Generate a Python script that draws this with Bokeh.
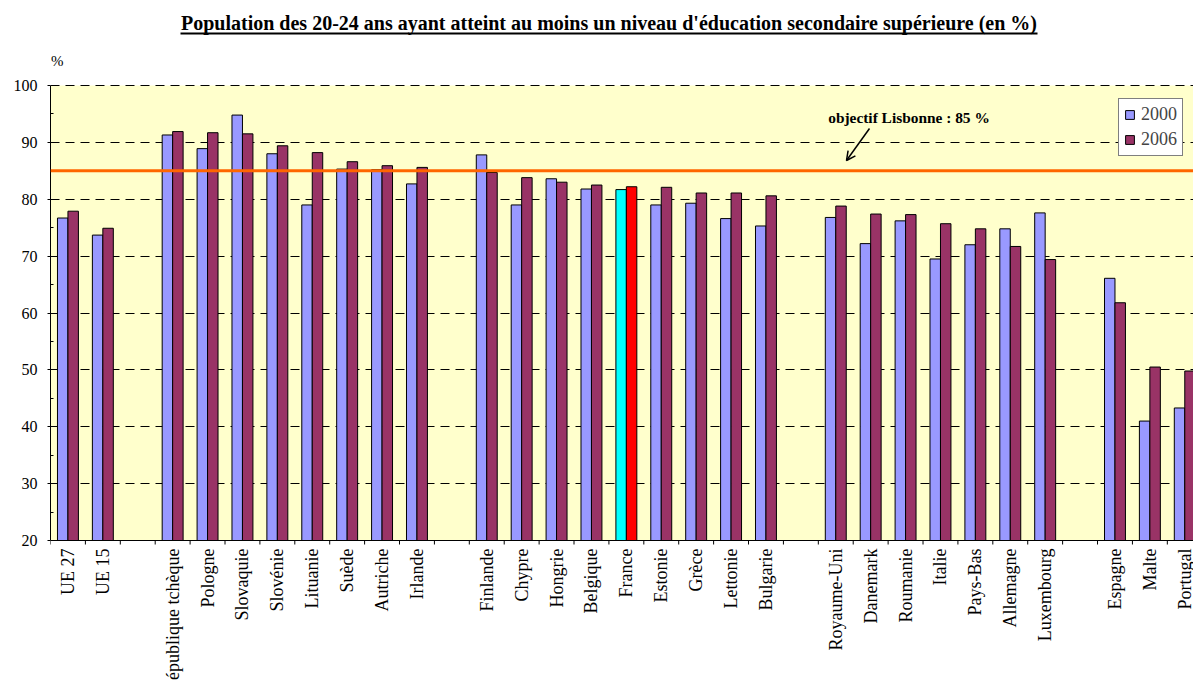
import math
from bokeh.plotting import figure
from bokeh.models import (ColumnDataSource, FixedTicker, Span, Label, Arrow, OpenHead,
                          Legend, LegendItem, BoxAnnotation)
from bokeh.core.properties import value
from bokeh.embed import file_html
from bokeh.resources import INLINE

# ---------------- data ----------------
categories = ["UE 27", "UE 15",
              "République tchèque", "Pologne", "Slovaquie", "Slovénie", "Lituanie", "Suède", "Autriche", "Irlande",
              "Finlande", "Chypre", "Hongrie", "Belgique", "France", "Estonie", "Grèce", "Lettonie", "Bulgarie",
              "Royaume-Uni", "Danemark", "Roumanie", "Italie", "Pays-Bas", "Allemagne", "Luxembourg",
              "Espagne", "Malte", "Portugal"]
group_sizes = [2, 8, 9, 7, 3]
v2000 = [76.7, 73.7,
         91.3, 88.9, 94.8, 88.0, 79.0, 85.3, 85.2, 82.7,
         87.8, 79.0, 83.6, 81.8, 81.7, 79.0, 79.3, 76.6, 75.3,
         76.8, 72.2, 76.2, 69.5, 72.0, 74.8, 77.6,
         66.1, 41.0, 43.3]
v2006 = [77.9, 74.9,
         91.9, 91.7, 91.5, 89.4, 88.2, 86.6, 85.9, 85.6,
         84.7, 83.8, 83.0, 82.5, 82.2, 82.1, 81.1, 81.1, 80.6,
         78.8, 77.4, 77.3, 75.7, 74.8, 71.7, 69.4,
         61.8, 50.5, 49.8]
highlight = "France"
target = 85
y_ticks = [20, 30, 40, 50, 60, 70, 80, 90, 100]
title_text = "Population des 20-24 ans ayant atteint au moins un niveau d'éducation secondaire supérieure (en %)"
note_text = "objectif Lisbonne : 85 %"
unit_text = "%"

# slot positions, one empty slot between groups
centers = []
slot = 0
for n in group_sizes:
    for k in range(n):
        centers.append(slot + 0.5)
        slot += 1
    slot += 1
n_slots = slot - 1
boundaries = list(range(0, n_slots + 1))

bw = 0.3
c2000 = ["#00FFFF" if c == highlight else "#9999FF" for c in categories]
c2006 = ["#FF0000" if c == highlight else "#993366" for c in categories]

FONT = "Liberation Serif"
W, H = 1193, 680
LEFT = 50
X_END = 32.75
Y0, Y1 = 20, 100
PX_PER_Y = 455 / 80.0          # frame pixels per % unit
y_top = Y1 + 85 / PX_PER_Y      # room above 100 for the title
y_bot = Y0 - 140 / PX_PER_Y     # room below 20 for category labels
px_per_x = (W - LEFT) / X_END
LBL_SHIFT = 6                   # label baseline correction (px)

def dy(px):
    return px / PX_PER_Y

def dx(px):
    return px / px_per_x

def ly(page_y):  # page y of a text baseline -> data y
    return Y1 + dy(85 - (page_y - LBL_SHIFT))

src = ColumnDataSource(dict(
    x0=[c - bw / 2 for c in centers], x1=[c + bw / 2 for c in centers],
    xc=centers, v2000=v2000, v2006=v2006, c2000=c2000, c2006=c2006,
    name=categories))

p = figure(width=W, height=H, x_range=(0, X_END), y_range=(y_bot, y_top),
           output_backend="svg", toolbar_location=None, x_axis_location=None,
           min_border_left=LEFT, min_border_right=0, min_border_top=0, min_border_bottom=0)
p.background_fill_color = "white"
p.border_fill_color = "white"
p.outline_line_color = None

# plot area background
p.add_layout(BoxAnnotation(bottom=Y0, top=Y1, fill_color="#FFFFCC", fill_alpha=1,
                           line_color=None, level="image"))

# grid
p.xgrid.visible = False
p.ygrid.ticker = FixedTicker(ticks=[t for t in y_ticks if t > Y0])
p.ygrid.grid_line_color = "black"
p.ygrid.grid_line_dash = "9 6"
p.ygrid.grid_line_width = 1

# bars
r1 = p.vbar(x="x0", width=bw, top="v2000", bottom=Y0, source=src,
            fill_color="c2000", line_color="black", line_width=1)
r2 = p.vbar(x="x1", width=bw, top="v2006", bottom=Y0, source=src,
            fill_color="c2006", line_color="black", line_width=1)

# target line
p.add_layout(Span(location=target, dimension="width", line_color="#FF6600", line_width=3))

# y axis
ya = p.yaxis[0]
ya.bounds = (Y0, Y1)
ya.ticker = FixedTicker(ticks=y_ticks, minor_ticks=[t + 5 for t in y_ticks[:-1]])
ya.major_tick_out = 3
ya.major_tick_in = 0
ya.minor_tick_in = 3
ya.minor_tick_out = 0
ya.axis_line_color = "black"
ya.major_label_text_font = FONT
ya.major_label_text_font_size = "16px"
ya.major_label_text_color = "black"
ya.major_label_standoff = 10

# x axis line, boundary ticks and category labels
p.add_layout(Span(location=Y0, dimension="width", line_color="black", line_width=1))
p.segment(x0=boundaries, y0=[Y0] * len(boundaries), x1=boundaries,
          y1=[Y0 - dy(4)] * len(boundaries), line_color="black", line_width=1)
p.text(x="xc", y=Y0 - dy(8), text="name", source=src, angle=math.pi / 2,
       text_align="right", text_baseline="middle",
       text_font=value(FONT), text_font_size="18px", text_color="black")

# title with underline
p.add_layout(Label(x=dx(608.5 - LEFT), y=ly(28), text=title_text, text_align="center",
                   text_baseline="alphabetic", text_font=FONT, text_font_size="20px",
                   text_font_style="bold", text_color="black"))
p.segment(x0=[dx(180 - LEFT)], y0=[Y1 + dy(85 - 33)], x1=[dx(1037 - LEFT)], y1=[Y1 + dy(85 - 33)],
          line_color="black", line_width=2)

# "%" unit label
p.add_layout(Label(x=dx(0.5), y=ly(66), text=unit_text, text_font=FONT,
                   text_font_size="15px", text_baseline="alphabetic", text_color="black"))

# note and arrow
p.add_layout(Label(x=dx(908.5 - LEFT), y=ly(122.5), text=note_text, text_align="center",
                   text_baseline="alphabetic", text_font=FONT, text_font_size="15.4px",
                   text_font_style="bold", text_color="black"))
p.add_layout(Arrow(end=OpenHead(size=9, line_width=1.5, line_color="black"),
                   x_start=dx(869 - LEFT), y_start=Y1 - dy(128 - 85),
                   x_end=dx(846 - LEFT), y_end=Y1 - dy(160 - 85),
                   line_color="black", line_width=1.5))

# legend
legend = Legend(items=[LegendItem(label="2000", renderers=[r1], index=0),
                       LegendItem(label="2006", renderers=[r2], index=0)],
                location=(1068, 680 - 156))
legend.label_text_font = FONT
legend.label_text_font_size = "18px"
legend.label_height = 21
legend.glyph_width = 11
legend.glyph_height = 11
legend.spacing = 4
legend.padding = 5
legend.margin = 0
legend.label_standoff = 6
legend.border_line_color = "black"
legend.border_line_width = 1
legend.background_fill_color = "white"
legend.background_fill_alpha = 1
p.add_layout(legend)

open("out.html", "w").write(file_html(p, INLINE))
